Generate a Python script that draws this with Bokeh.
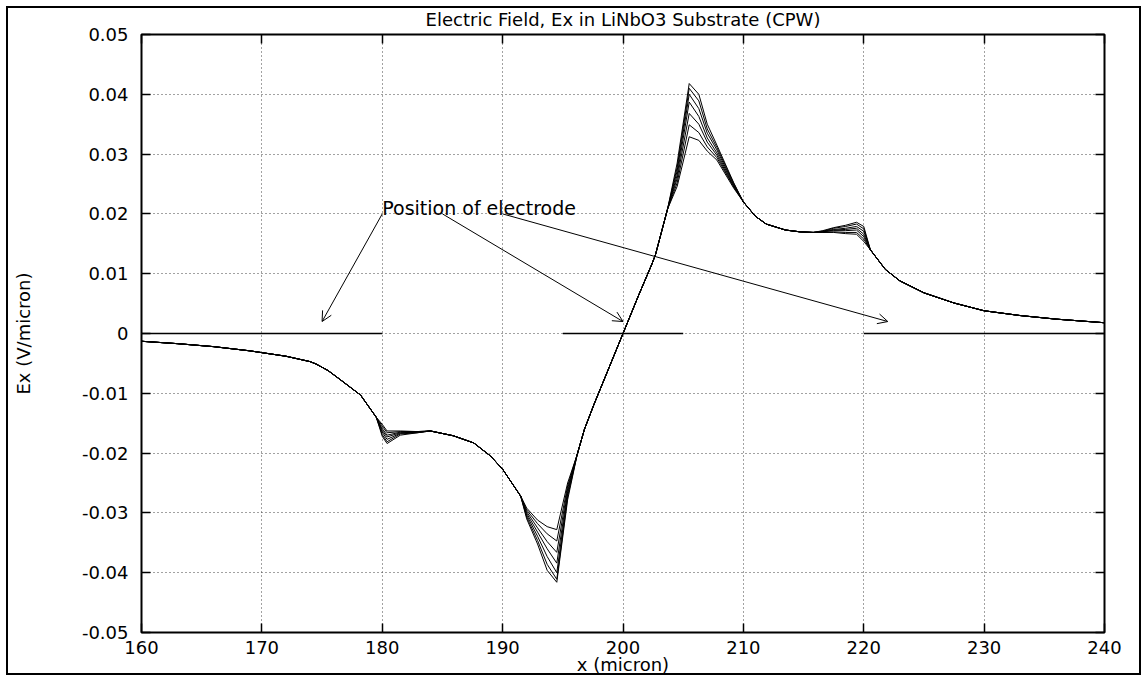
from bokeh.plotting import figure
from bokeh.models import (Range1d, FixedTicker, LinearAxis, Arrow, OpenHead, Label,
                          ColumnDataSource)
from bokeh.embed import file_html
from bokeh.resources import INLINE

# ---------------- data ----------------
title_text = "Electric Field, Ex in LiNbO3 Substrate (CPW)"
x_label = "x (micron)"
y_label = "Ex (V/micron)"

x_ticks = [160, 170, 180, 190, 200, 210, 220, 230, 240]
y_ticks = [-0.05, -0.04, -0.03, -0.02, -0.01, 0, 0.01, 0.02, 0.03, 0.04, 0.05]
y_tick_labels = ["-0.05", "-0.04", "-0.03", "-0.02", "-0.01", "0",
                 "0.01", "0.02", "0.03", "0.04", "0.05"]

x_um = [160.0, 163.0, 166.0, 169.0, 172.0, 174.0, 174.5, 175.5, 176.5, 178.2,
        179.5, 180.0, 180.4, 181.5, 182.9, 184.0, 185.9, 187.6, 189.0, 190.0,
        191.5, 192.0, 192.9, 193.7, 194.5, 195.4, 196.2, 196.8, 197.6, 198.7,
        200.0, 201.3, 202.4, 202.7, 203.7, 204.5, 205.5, 206.3, 207.0, 207.8,
        209.2, 210.0, 211.0, 211.9, 213.5, 214.7, 215.8, 216.6, 217.5, 218.5,
        219.4, 220.0, 220.55, 221.8, 223.0, 225.0, 227.5, 230.0, 233.0, 236.0,
        240.0]

ex_run1 = [-0.0013, -0.0017, -0.0022, -0.0029, -0.0038, -0.0047, -0.0051, -0.0062, -0.0077, -0.0103,
           -0.0140, -0.0152, -0.0163, -0.0163, -0.0164, -0.0163, -0.0171, -0.0183, -0.0205, -0.0227,
           -0.0272, -0.0292, -0.0312, -0.0323, -0.0328, -0.0250, -0.0202, -0.0160, -0.0118, -0.0064,
           0.0, 0.0064, 0.0116, 0.0132, 0.0208, 0.0246, 0.0329, 0.0323, 0.0305, 0.0290,
           0.0243, 0.0220, 0.0196, 0.0183, 0.0173, 0.0170, 0.0169, 0.0169, 0.0169, 0.0167,
           0.0166, 0.0154, 0.0140, 0.0107, 0.0088, 0.0068, 0.0051, 0.0038, 0.0030, 0.0024,
           0.0018]
ex_run2 = [-0.0013, -0.0017, -0.0022, -0.0029, -0.0038, -0.0047, -0.0051, -0.0062, -0.0077, -0.0103,
           -0.0140, -0.0155, -0.0166, -0.0164, -0.0164, -0.0163, -0.0171, -0.0183, -0.0205, -0.0227,
           -0.0272, -0.0295, -0.0318, -0.0335, -0.0347, -0.0255, -0.0202, -0.0160, -0.0118, -0.0064,
           0.0, 0.0064, 0.0116, 0.0132, 0.0208, 0.0252, 0.0349, 0.0336, 0.0312, 0.0294,
           0.0245, 0.0220, 0.0196, 0.0183, 0.0173, 0.0170, 0.0169, 0.0169, 0.0170, 0.0169,
           0.0169, 0.0158, 0.0140, 0.0107, 0.0088, 0.0068, 0.0051, 0.0038, 0.0030, 0.0024,
           0.0018]
ex_run3 = [-0.0013, -0.0017, -0.0022, -0.0029, -0.0038, -0.0047, -0.0051, -0.0062, -0.0077, -0.0103,
           -0.0140, -0.0159, -0.0170, -0.0165, -0.0165, -0.0163, -0.0171, -0.0183, -0.0205, -0.0227,
           -0.0272, -0.0298, -0.0325, -0.0348, -0.0366, -0.0259, -0.0202, -0.0160, -0.0118, -0.0064,
           0.0, 0.0064, 0.0116, 0.0132, 0.0208, 0.0259, 0.0368, 0.0350, 0.0320, 0.0298,
           0.0246, 0.0220, 0.0196, 0.0183, 0.0173, 0.0170, 0.0169, 0.0170, 0.0172, 0.0172,
           0.0173, 0.0162, 0.0140, 0.0107, 0.0088, 0.0068, 0.0051, 0.0038, 0.0030, 0.0024,
           0.0018]
ex_run4 = [-0.0013, -0.0017, -0.0022, -0.0029, -0.0038, -0.0047, -0.0051, -0.0062, -0.0077, -0.0103,
           -0.0140, -0.0162, -0.0173, -0.0166, -0.0165, -0.0163, -0.0171, -0.0183, -0.0205, -0.0227,
           -0.0272, -0.0301, -0.0332, -0.0360, -0.0384, -0.0264, -0.0202, -0.0160, -0.0118, -0.0064,
           0.0, 0.0064, 0.0116, 0.0132, 0.0208, 0.0265, 0.0387, 0.0363, 0.0327, 0.0302,
           0.0248, 0.0220, 0.0196, 0.0183, 0.0173, 0.0170, 0.0169, 0.0170, 0.0173, 0.0174,
           0.0176, 0.0166, 0.0140, 0.0107, 0.0088, 0.0068, 0.0051, 0.0038, 0.0030, 0.0024,
           0.0018]
ex_run5 = [-0.0013, -0.0017, -0.0022, -0.0029, -0.0038, -0.0047, -0.0051, -0.0062, -0.0077, -0.0103,
           -0.0140, -0.0165, -0.0177, -0.0167, -0.0165, -0.0163, -0.0171, -0.0183, -0.0205, -0.0227,
           -0.0272, -0.0304, -0.0339, -0.0373, -0.0400, -0.0268, -0.0202, -0.0160, -0.0118, -0.0064,
           0.0, 0.0064, 0.0116, 0.0132, 0.0208, 0.0272, 0.0400, 0.0376, 0.0335, 0.0307,
           0.0249, 0.0220, 0.0196, 0.0183, 0.0173, 0.0170, 0.0169, 0.0171, 0.0174, 0.0176,
           0.0179, 0.0171, 0.0140, 0.0107, 0.0088, 0.0068, 0.0051, 0.0038, 0.0030, 0.0024,
           0.0018]
ex_run6 = [-0.0013, -0.0017, -0.0022, -0.0029, -0.0038, -0.0047, -0.0051, -0.0062, -0.0077, -0.0103,
           -0.0140, -0.0169, -0.0181, -0.0168, -0.0166, -0.0163, -0.0171, -0.0183, -0.0205, -0.0227,
           -0.0272, -0.0307, -0.0346, -0.0386, -0.0411, -0.0273, -0.0202, -0.0160, -0.0118, -0.0064,
           0.0, 0.0064, 0.0116, 0.0132, 0.0208, 0.0278, 0.0410, 0.0389, 0.0342, 0.0311,
           0.0251, 0.0220, 0.0196, 0.0183, 0.0173, 0.0170, 0.0169, 0.0171, 0.0176, 0.0179,
           0.0183, 0.0175, 0.0140, 0.0107, 0.0088, 0.0068, 0.0051, 0.0038, 0.0030, 0.0024,
           0.0018]
ex_run7 = [-0.0013, -0.0017, -0.0022, -0.0029, -0.0038, -0.0047, -0.0051, -0.0062, -0.0077, -0.0103,
           -0.0140, -0.0172, -0.0184, -0.0170, -0.0166, -0.0163, -0.0171, -0.0183, -0.0205, -0.0227,
           -0.0272, -0.0310, -0.0352, -0.0396, -0.0416, -0.0278, -0.0202, -0.0160, -0.0118, -0.0064,
           0.0, 0.0064, 0.0116, 0.0132, 0.0208, 0.0285, 0.0418, 0.0400, 0.0350, 0.0315,
           0.0252, 0.0220, 0.0196, 0.0183, 0.0173, 0.0170, 0.0169, 0.0172, 0.0177, 0.0181,
           0.0186, 0.0179, 0.0140, 0.0107, 0.0088, 0.0068, 0.0051, 0.0038, 0.0030, 0.0024,
           0.0018]
ex_runs = [ex_run1, ex_run2, ex_run3, ex_run4, ex_run5, ex_run6, ex_run7]

electrode_start = [160, 195, 220]
electrode_end = [180, 205, 240]
electrode_level = [0, 0, 0]

note_text = "Position of electrode"
arrow_tail_x = [180, 185, 190]
arrow_tail_y = [0.02, 0.02, 0.02]
arrow_tip_x = [175, 200, 222]
arrow_tip_y = [0.002, 0.002, 0.002]

# ---------------- figure ----------------
FONT = "DejaVu Sans"
W, H = 1147, 681
p = figure(width=W, height=H,
           x_range=Range1d(160, 240), y_range=Range1d(-0.05, 0.05),
           output_backend="svg", toolbar_location=None,
           min_border_left=141, min_border_right=W - 1104,
           min_border_top=34, min_border_bottom=H - 632,
           title=title_text)
# frame drawn round the whole picture
p.styles = {"outline": "2px solid black", "outline-offset": "-8px"}

p.title.align = "center"
p.title.text_font = FONT
p.title.text_font_size = "18px"
p.title.text_font_style = "normal"
p.title.text_color = "black"
p.title.standoff = 10

p.outline_line_color = "black"
p.outline_line_width = 2
p.background_fill_color = "white"
p.border_fill_color = None

xt = FixedTicker(ticks=x_ticks)
yt = FixedTicker(ticks=y_ticks)

def style_axis(ax, ticker, show_labels):
    ax.ticker = ticker
    ax.axis_line_color = None
    ax.major_tick_in = 9
    ax.major_tick_out = 0
    ax.major_tick_line_color = "black"
    ax.major_tick_line_width = 1.5
    ax.minor_tick_line_color = None
    ax.major_label_text_font = FONT
    if show_labels:
        ax.major_label_text_font_size = "18px"
        ax.major_label_text_color = "black"
    else:
        ax.major_label_text_font_size = "1px"
        ax.major_label_text_color = None
        ax.major_label_standoff = 0

xa = p.xaxis[0]
ya = p.yaxis[0]
style_axis(xa, xt, True)
style_axis(ya, yt, True)
xa.major_label_standoff = 8
ya.major_label_standoff = 13
ya.major_label_overrides = {t: s for t, s in zip(y_ticks, y_tick_labels)}

xa.axis_label = x_label
ya.axis_label = y_label
for ax in (xa, ya):
    ax.axis_label_text_font = FONT
    ax.axis_label_text_font_size = "18px"
    ax.axis_label_text_font_style = "normal"
    ax.axis_label_text_color = "black"
xa.axis_label_standoff = -3
ya.axis_label_standoff = 45

top_ax = LinearAxis()
right_ax = LinearAxis()
style_axis(top_ax, xt, False)
style_axis(right_ax, yt, False)
p.add_layout(top_ax, "above")
p.add_layout(right_ax, "right")

for g, t in ((p.xgrid[0], xt), (p.ygrid[0], yt)):
    g.ticker = t
    g.grid_line_color = "#444444"
    g.grid_line_dash = "1 3"
    g.grid_line_width = 1

# electrodes
p.segment(x0=electrode_start, y0=electrode_level, x1=electrode_end, y1=electrode_level,
          line_color="black", line_width=1.5)

# field curves
for ys in ex_runs:
    p.line(x_um, ys, line_color="black", line_width=1)

# annotation
p.add_layout(Label(x=arrow_tail_x[0], y=0.021, text=note_text, text_font=FONT,
                   text_font_size="19px", text_color="black",
                   text_align="left", text_baseline="alphabetic"))
arrow_src = ColumnDataSource(dict(x0=arrow_tail_x, y0=arrow_tail_y, x1=arrow_tip_x, y1=arrow_tip_y))
p.add_layout(Arrow(source=arrow_src, x_start="x0", y_start="y0", x_end="x1", y_end="y1",
                   line_color="black", line_width=1,
                   end=OpenHead(size=10, line_width=1, line_color="black")))

open("out.html", "w").write(file_html(p, INLINE))
